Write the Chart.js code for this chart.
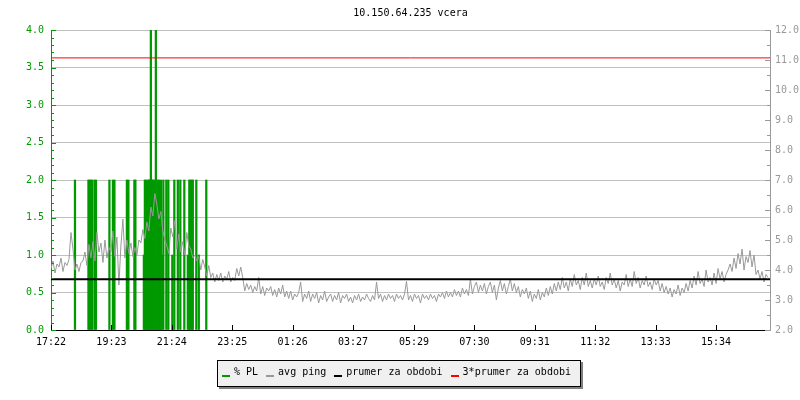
<!DOCTYPE html>
<html>
<head>
<meta charset="utf-8">
<script src="https://cdn.jsdelivr.net/npm/chart.js@4.4.0/dist/chart.umd.min.js"></script>
<style>
  body { margin: 0; background: #fff; }
  #wrap { position: relative; width: 800px; height: 400px; }
  #legend {
    position: absolute; left: 217px; top: 360px; width: 364px; height: 27px;
    box-sizing: border-box; background: #f0f0f0; border: 1px solid #000;
    box-shadow: 2px 2px 0 #808080; padding: 5px 0 0 4px; white-space: nowrap;
    font: 10px 'DejaVu Sans Mono', monospace; color: #000;
  }
  .item { margin-right: 8px; }
  .mark { display: inline-block; width: 8px; height: 2px; margin-right: 4px; vertical-align: -2px; }
</style>
</head>
<body>
<div id="wrap">
  <canvas id="pingChart" width="800" height="400"></canvas>
  <div id="legend"></div>
</div>
<script>
// Title and x axis labels
const titleText = '10.150.64.235 vcera';
const tickMinutes = [0, 121, 242, 363, 484, 605, 727, 848, 969, 1090, 1211, 1332];
const tickLabels = ['17:22', '19:23', '21:24', '23:25', '01:26', '03:27',
    '05:29', '07:30', '09:31', '11:32', '13:33', '15:34'];

// avg ping (right axis), one sample every 4 minutes from 17:22
const pingStep = 4;
const pingValues = [
    4.05, 4.3, 3.9, 4.2, 4.1, 4.4, 3.95, 4.25, 4.15, 4.35,
    5.25, 4.7, 4.0, 4.2, 3.95, 4.25, 4.3, 4.6, 4.15, 4.85,
    4.4, 4.95, 4.3, 5.25, 4.6, 4.9, 4.25, 5.0, 4.4, 4.75,
    4.6, 5.3, 4.45, 5.1, 3.5, 4.8, 5.7, 4.4, 5.0, 4.55,
    4.9, 4.45, 4.75, 4.5, 5.0, 4.9, 5.35, 5.05, 5.6, 5.3,
    6.1, 5.8, 6.55, 6.2, 5.7, 5.95, 5.3, 5.0, 4.8, 4.55,
    5.4, 5.1, 5.65, 4.7, 5.2, 4.6, 4.95, 4.5, 5.25, 4.8,
    4.7, 4.4, 4.5, 4.3, 4.45, 4.0, 4.35, 4.1, 3.8, 4.15,
    3.75, 3.9, 3.6, 3.85, 3.65, 3.9, 3.6, 3.8, 3.7, 3.95,
    3.6, 3.75, 3.65, 4.05, 3.8, 4.1, 3.75, 3.3, 3.55, 3.35,
    3.5, 3.25, 3.45, 3.3, 3.75, 3.2, 3.45, 3.15, 3.4, 3.3,
    3.45, 3.15, 3.35, 3.1, 3.4, 3.2, 3.5, 3.1, 3.3, 3.05,
    3.3, 3.0, 3.2, 3.1, 3.25, 3.6, 2.95, 3.2, 3.05, 3.3,
    2.95, 3.2, 3.05, 3.25, 2.9, 3.15, 3.0, 3.3, 2.95, 3.1,
    3.2, 2.95, 3.15, 3.0, 3.25, 2.9, 3.15, 3.05, 3.2, 2.95,
    3.1, 2.9, 3.15, 3.0, 3.2, 2.95, 3.1, 3.0, 3.2, 3.05,
    2.95, 3.15, 3.0, 3.6, 3.05, 3.2, 2.95, 3.15, 3.0, 3.2,
    3.05, 3.15, 2.95, 3.2, 3.05, 3.15, 3.0, 3.2, 3.62, 3.0,
    3.15, 2.95, 3.2, 3.05, 3.15, 2.9, 3.2, 3.05, 3.15, 3.0,
    3.2, 3.05, 3.15, 2.95, 3.2, 3.1, 3.25, 3.05, 3.3, 3.1,
    3.25, 3.1, 3.35, 3.15, 3.3, 3.1, 3.4, 3.2, 3.35, 3.15,
    3.7, 3.2, 3.45, 3.6, 3.25, 3.5, 3.3, 3.55, 3.2, 3.45,
    3.6, 3.25, 3.5, 3.0, 3.4, 3.65, 3.3, 3.55, 3.2, 3.45,
    3.7, 3.3, 3.55, 3.25, 3.45, 3.1, 3.35, 3.2, 3.4, 3.05,
    3.3, 2.95, 3.2, 3.05, 3.35, 3.0, 3.25, 3.1, 3.4, 3.15,
    3.45, 3.2, 3.55, 3.3, 3.6, 3.35, 3.75, 3.4, 3.6, 3.3,
    3.7, 3.45, 3.85, 3.5, 3.65, 3.35, 3.75, 3.5, 3.9, 3.45,
    3.65, 3.4, 3.7, 3.5, 3.8, 3.45, 3.6, 3.35, 3.75, 3.55,
    3.9, 3.5, 3.7, 3.4, 3.65, 3.3, 3.6, 3.5, 3.85, 3.45,
    3.7, 3.45, 3.95, 3.55, 3.75, 3.4, 3.65, 3.5, 3.8, 3.45,
    3.6, 3.35, 3.7, 3.5, 3.65, 3.3, 3.55, 3.25, 3.45, 3.2,
    3.4, 3.1, 3.35, 3.2, 3.5, 3.15, 3.4, 3.25, 3.55, 3.3,
    3.65, 3.4, 3.8, 3.5, 3.95, 3.55, 3.7, 3.45, 4.0, 3.6,
    3.75, 3.5, 3.9, 3.55, 4.05, 3.7, 3.95, 3.6, 3.85, 4.0,
    4.2, 3.95, 4.4, 4.05, 4.55, 4.2, 4.7, 4.0, 4.45, 4.25,
    4.65, 4.1, 4.5, 3.85, 4.0, 3.7, 3.95, 3.6, 3.85, 3.75
];

// % PL (left axis), only the non-zero samples: minutes after 17:22 and value
const plMinutes = [
    48, 75, 77, 80, 82, 87, 90, 117, 124, 127, 152, 155, 167, 169,
    186, 188, 190, 192, 194, 196, 198, 200, 202, 204, 206, 208, 210, 212, 214, 216, 218, 220, 222,
    225, 231, 235, 243, 247, 254, 259, 267, 274, 277, 279, 282, 284, 291, 296, 311
];
const plValues = [
    2, 2, 2, 2, 2, 2, 2, 2, 2, 2, 2, 2, 2, 2,
    1, 2, 2, 1, 2, 2, 2, 4, 2, 2, 2, 1, 4, 1, 2, 2, 1, 2, 1,
    2, 2, 2, 1, 2, 2, 2, 2, 1, 2, 2, 2, 2, 2, 1, 2
];

// period average and 3x average (right axis)
const avgPing = 3.69;
const avgPing3 = 11.07;

const seriesNames = ['% PL', 'avg ping', 'prumer za obdobi', '3*prumer za obdobi'];
const seriesColors = ['#009900', '#999999', '#000000', '#ff0000'];

const monoFont = { family: 'DejaVu Sans Mono', size: 10 };

// small inward tick marks like rrdtool draws them
const innerTicks = {
    id: 'innerTicks',
    afterDraw(chart) {
        const { ctx, chartArea: a, scales: { x, y, y2 } } = chart;
        ctx.save();
        ctx.lineWidth = 1;
        ctx.strokeStyle = seriesColors[0];
        ctx.beginPath();
        for (let k = 0; k <= 40; k++) {
            const py = Math.round(y.getPixelForValue(k / 10)) + 0.5;
            ctx.moveTo(a.left, py);
            ctx.lineTo(a.left + (k % 5 === 0 ? 5 : 3), py);
        }
        ctx.stroke();
        ctx.strokeStyle = '#999999';
        ctx.beginPath();
        for (let k = 0; k <= 20; k++) {
            const py = Math.round(y2.getPixelForValue(2 + k / 2)) + 0.5;
            ctx.moveTo(a.right, py);
            ctx.lineTo(a.right - (k % 2 === 0 ? 5 : 3), py);
        }
        ctx.stroke();
        ctx.strokeStyle = '#000';
        ctx.beginPath();
        tickMinutes.forEach(m => {
            const px = Math.round(x.getPixelForValue(m)) + 0.5;
            ctx.moveTo(px, a.bottom);
            ctx.lineTo(px, a.bottom - 5);
        });
        ctx.stroke();
        ctx.restore();
    }
};

const ctx = document.getElementById('pingChart').getContext('2d');
const pingChart = new Chart(ctx, {
    type: 'line',
    data: {
        datasets: [
            {
                type: 'bar',
                label: seriesNames[0],
                data: plMinutes.map((m, i) => ({ x: m, y: plValues[i] })),
                backgroundColor: seriesColors[0],
                barThickness: 1.6,
                grouped: false,
                yAxisID: 'y',
                order: 4,
            },
            {
                label: seriesNames[1],
                data: pingValues.map((v, i) => ({ x: i * pingStep, y: v })),
                borderColor: seriesColors[1],
                borderWidth: 1,
                pointRadius: 0,
                yAxisID: 'y2',
                order: 3,
            },
            {
                label: seriesNames[2],
                data: [{ x: 0, y: avgPing }, { x: 1440, y: avgPing }],
                borderColor: seriesColors[2],
                borderWidth: 2,
                pointRadius: 0,
                yAxisID: 'y2',
                order: 2,
            },
            {
                label: seriesNames[3],
                data: [{ x: 0, y: avgPing3 }, { x: 1440, y: avgPing3 }],
                borderColor: seriesColors[3],
                borderWidth: 1,
                pointRadius: 0,
                yAxisID: 'y2',
                order: 1,
            },
        ],
    },
    options: {
        responsive: false,
        animation: false,
        layout: { padding: 0 },
        scales: {
            x: {
                type: 'linear',
                min: 0,
                max: 1440,
                offset: false,
                afterBuildTicks: s => { s.ticks = tickMinutes.map(v => ({ value: v })); },
                afterFit: s => { s.height = 70; },
                grid: { display: false, drawTicks: false },
                border: { color: '#000', width: 1 },
                ticks: {
                    autoSkip: false,
                    maxRotation: 0,
                    padding: 6,
                    color: '#000',
                    font: monoFont,
                    callback: v => tickLabels[tickMinutes.indexOf(v)],
                },
            },
            y: {
                type: 'linear',
                position: 'left',
                min: 0,
                max: 4,
                afterFit: s => { s.width = 51; },
                grid: { color: '#c0c0c0', drawTicks: false },
                border: { color: seriesColors[0] },
                ticks: {
                    stepSize: 0.5,
                    padding: 7,
                    color: seriesColors[0],
                    font: monoFont,
                    callback: v => v.toFixed(1),
                },
            },
            y2: {
                type: 'linear',
                position: 'right',
                min: 2,
                max: 12,
                afterFit: s => { s.width = 30; },
                grid: { display: false, drawTicks: false },
                border: { color: '#999999' },
                ticks: {
                    stepSize: 1,
                    padding: 5,
                    color: '#999999',
                    font: monoFont,
                    callback: v => v.toFixed(1),
                },
            },
        },
        plugins: {
            legend: { display: false },
            tooltip: { enabled: false },
            title: {
                display: true,
                fullSize: false,
                text: titleText,
                color: '#000',
                font: { family: 'DejaVu Sans Mono', size: 10, weight: 'normal' },
                padding: { top: 7, bottom: 11 },
            },
        },
    },
    plugins: [innerTicks],
});

// legend box under the chart
document.getElementById('legend').innerHTML = seriesNames.map((n, i) =>
    '<span class="item"><span class="mark" style="background:' + seriesColors[i] + '"></span>' + n + '</span>'
).join('');
</script>
</body>
</html>
